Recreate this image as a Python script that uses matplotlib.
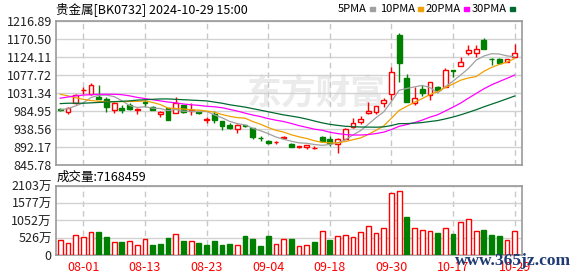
import matplotlib
matplotlib.use("Agg")
import matplotlib.pyplot as plt
from matplotlib.patches import Rectangle
import numpy as np
import pandas as pd

plt.rcParams['font.family'] = ['Noto Sans CJK SC', 'DejaVu Sans']

# trading days 2024-07-29 .. 2024-10-29
dates = ["07-29", "07-30", "07-31", "08-01", "08-02", "08-05", "08-06", "08-07", "08-08", "08-09",
         "08-12", "08-13", "08-14", "08-15", "08-16", "08-19", "08-20", "08-21", "08-22", "08-23",
         "08-26", "08-27", "08-28", "08-29", "08-30", "09-02", "09-03", "09-04", "09-05", "09-06",
         "09-09", "09-10", "09-11", "09-12", "09-13", "09-18", "09-19", "09-20", "09-23", "09-24",
         "09-25", "09-26", "09-27", "09-30", "10-08", "10-09", "10-10", "10-11", "10-14", "10-15",
         "10-16", "10-17", "10-18", "10-21", "10-22", "10-23", "10-24", "10-25", "10-28", "10-29"]
opens = [989, 981.6, 1006.4, 1038, 1028, 1022, 1015, 987.5, 993.5, 1000,
         988, 1007, 996, 978.5, 991.6, 979, 1000, 984, 984, 963,
         978, 959, 949, 938, 948, 940, 915.5, 908, 904, 914.6,
         900, 893, 891.5, 890, 917, 914, 901, 914, 943, 956,
         981, 983, 1006, 1028, 1181, 1069, 1005, 1041, 1026, 1047,
         1046, 1090, 1101.6, 1135, 1134, 1168, 1120, 1118, 1112, 1125]
highs = [993, 995, 1028, 1047, 1056, 1052, 1020, 1008, 1000, 1006,
         993, 1013, 999, 985, 993, 1022, 1001, 1004.8, 986, 970,
         985, 960, 953, 951, 950, 941, 921, 910, 908, 920,
         902, 896, 898, 895, 920, 920, 914.5, 940, 968, 971,
         1009, 999, 1018, 1099, 1185, 1080, 1046, 1052, 1059, 1049,
         1096, 1090, 1125, 1155, 1155, 1172, 1121, 1122, 1119, 1157.6]
lows = [985, 976.5, 1004, 1030, 1027, 1015, 983, 979, 979, 987,
        976.5, 996, 987, 970, 961.8, 979, 979, 974, 977, 953,
        953, 936, 938, 929, 944, 914, 908, 900, 900, 912,
        891, 889, 888, 887, 905, 895, 877, 912, 940, 952,
        978, 976, 995, 1013, 1060, 1009, 1000, 1023, 1013, 1036,
        1046, 1073, 1101.6, 1130, 1125, 1144, 1103.5, 1107, 1112, 1124]
closes = [987.5, 993.5, 1026.2, 1039.5, 1052, 1016, 996, 1006.5, 987.5, 989,
          991, 1006, 987.5, 983, 962, 1006, 983, 987, 979, 964,
          962, 946, 940, 950, 947, 919, 914.5, 903, 906, 918.7,
          893, 893.5, 897.5, 890.5, 908, 903, 914, 938, 953, 964,
          986, 998, 1013, 1086, 1109.5, 1009, 1018, 1032, 1059, 1039,
          1091, 1089, 1112, 1142, 1146, 1144, 1119, 1108, 1118, 1134]
# volume in 万
volumes = [465, 364, 607, 546, 698, 708, 556, 395, 405, 425,
           304, 486, 314, 344, 526, 638, 435, 425, 374, 314,
           435, 314, 344, 304, 587, 496, 283, 587, 334, 486,
           496, 273, 304, 405, 729, 465, 577, 607, 546, 698,
           880, 668, 820, 1882, 1943, 1164, 820, 759, 729, 678,
           820, 648, 1002, 1093, 729, 769, 617, 587, 455, 717]
prev_close = 985.0

# moving averages before enough closes are on the chart
ma5_head = [988, 991, 998, 1006]
ma10_head = [1028, 1024, 1019, 1015, 1012, 1010, 1009, 1009, 1009]
ma20_head = [1018, 1021, 1024, 1026, 1027, 1028, 1028, 1028, 1027, 1024,
             1020, 1017, 1014, 1011, 1008, 1006, 1003, 1001, 999.5]
ma30_head = [1004, 1005, 1005, 1005, 1006, 1007, 1008, 1009, 1010, 1011,
             1013, 1014, 1015, 1016, 1016, 1015, 1014, 1013, 1012, 1011,
             1008, 1005, 1001, 998, 995, 991, 987, 983, 979]

price_ticks = [845.78, 892.17, 938.56, 984.95, 1031.34, 1077.72, 1124.11, 1170.50, 1216.89]
vol_ticks = [0, 526, 1052, 1577, 2103]
vol_labels = ["0", "526万", "1052万", "1577万", "2103万"]
label_idx = [3, 11, 19, 27, 35, 43, 51, 59]

RED = "#ff0000"
GREEN = "#008000"
GRID = "#d2d2d2"
SPINE = "#999999"


def moving_avg(head, n):
    s = pd.Series(closes).rolling(n).mean().values
    s[:len(head)] = head
    return s


W, H = 578, 276
fig = plt.figure(figsize=(W / 100, H / 100), dpi=100)
ax = fig.add_axes([56 / W, 1 - 165 / H, 466 / W, 144 / H])
axv = fig.add_axes([56 / W, 1 - 255 / H, 466 / W, 69 / H])

x = np.arange(len(dates))
o = np.array(opens)
c = np.array(closes)
hi = np.array(highs)
lo = np.array(lows)
up = c >= o
edge = np.where(up, RED, GREEN)
face = np.where(up, "white", GREEN)

# watermark
ax.text(0.56, 0.5, "东方财富", transform=ax.transAxes, fontsize=25, fontweight="bold",
        color="#ebebeb", ha="center", va="center", zorder=0)

ax.vlines(x, lo, hi, colors=edge, lw=1, zorder=3)
ax.bar(x, np.maximum(np.abs(c - o), 0.01), bottom=np.minimum(o, c), width=0.62,
       color=face, edgecolor=edge, lw=1, zorder=4)

ax.plot(x, moving_avg(ma5_head, 5), color="#a0a0a0", lw=0.9, zorder=5)
ax.plot(x, moving_avg(ma10_head, 10), color="#f0a000", lw=0.9, zorder=5)
ax.plot(x, moving_avg(ma20_head, 20), color="#ff00ff", lw=0.9, zorder=5)
ax.plot(x, moving_avg(ma30_head, 30), color="#006a30", lw=0.9, zorder=5)

ax.set_ylim(price_ticks[0], price_ticks[-1])
ax.set_yticks(price_ticks)
ax.set_yticklabels(["%.2f" % v for v in price_ticks])

# volume, coloured by change against previous close
pc = np.concatenate([[prev_close], c[:-1]])
vup = c >= pc
axv.bar(x, volumes, width=0.62, color=np.where(vup, "white", GREEN),
        edgecolor=np.where(vup, RED, GREEN), lw=1, zorder=4)
axv.set_ylim(0, vol_ticks[-1])
axv.set_yticks(vol_ticks)
axv.set_yticklabels(vol_labels)

for a in (ax, axv):
    a.set_xlim(-0.55, len(dates) - 0.05)
    a.set_xticks([])
    a.yaxis.grid(True, color=GRID, lw=1, zorder=1)
    for i in label_idx:
        a.axvline(i, color="#c8c8c8", lw=1, ls=(0, (4, 3)), zorder=1)
    a.tick_params(axis="y", length=0, pad=3, labelsize=9, colors="#222222")
    for s in a.spines.values():
        s.set_color(SPINE)
        s.set_linewidth(1.2)

axv.set_xticks(label_idx)
axv.set_xticklabels([dates[i] for i in label_idx])
axv.tick_params(axis="x", length=0, pad=4, labelsize=9, colors=RED)

fig.text(56 / W, 1 - 9 / H, "贵金属[BK0732] 2024-10-29 15:00", fontsize=9, ha="left", va="center")
fig.text(57 / W, 1 - 177 / H, "成交量:7168459", fontsize=9, ha="left", va="center")

# legend: label followed by a small colour chip
legend = [("5PMA", "#a0a0a0", 338), ("10PMA", "#f0a000", 380),
          ("20PMA", "#ff00ff", 426), ("30PMA", "#006a30", 472)]
fig.canvas.draw()
renderer = fig.canvas.get_renderer()
for name, col, px in legend:
    t = fig.text(px / W, 1 - 9 / H, name, fontsize=8, ha="left", va="center")
    right = t.get_window_extent(renderer).x1
    fig.patches.append(Rectangle(((right + 3) / W, 1 - 10.5 / H), 5 / W, 3 / H,
                                 transform=fig.transFigure, color=col))

fig.text(455 / W, 1 - 261 / H, "www.365jz.com", fontsize=12.5, fontweight="bold",
         family=["Liberation Serif", "DejaVu Serif"], color="#1f3b73", ha="left", va="center")

fig.savefig("out.png", dpi=100)
